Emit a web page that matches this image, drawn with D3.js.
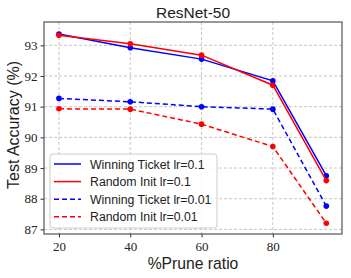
<!DOCTYPE html>
<html>
<head>
<meta charset="utf-8">
<script src="https://cdn.jsdelivr.net/npm/d3@7"></script>
<style>
  body { margin: 0; background: #fff; }
  svg text { fill: #222; }
</style>
</head>
<body>
<div id="chart"></div>
<script>
const pruneRatios = [20, 40, 60, 80, 95];
const winningLr01 = [93.37, 92.92, 92.55, 91.84, 88.75];
const randomLr01 = [93.33, 93.05, 92.68, 91.70, 88.59];
const winningLr001 = [91.27, 91.16, 91.00, 90.92, 87.76];
const randomLr001 = [90.93, 90.92, 90.43, 89.70, 87.20];
const xTicks = [20, 40, 60, 80];
const yTicks = [87, 88, 89, 90, 91, 92, 93];

const series = [
    { name: "Winning Ticket lr=0.1", values: winningLr01, color: "#0000ff", dash: null },
    { name: "Random Init lr=0.1", values: randomLr01, color: "#ff0000", dash: null },
    { name: "Winning Ticket lr=0.01", values: winningLr001, color: "#0000ff", dash: "5,3" },
    { name: "Random Init lr=0.01", values: randomLr001, color: "#ff0000", dash: "5,3" }
];

const W = 351, H = 278;
const margin = { top: 22, right: 9, bottom: 44, left: 44 };
const width = W - margin.left - margin.right;
const height = H - margin.top - margin.bottom;

const svg = d3.select("#chart").append("svg")
    .attr("width", W)
    .attr("height", H);

const g = svg.append("g")
    .attr("transform", `translate(${margin.left},${margin.top})`);

const x = d3.scaleLinear().domain([15.8, 99.4]).range([0, width]);
const y = d3.scaleLinear().domain([86.85, 93.76]).range([height, 0]);

// grid
g.selectAll(".gx").data(xTicks).enter().append("line")
    .attr("x1", d => x(d)).attr("x2", d => x(d))
    .attr("y1", 0).attr("y2", height)
    .attr("stroke", "#b8b8b8").attr("stroke-width", 0.8)
    .attr("stroke-dasharray", "3,2");
g.selectAll(".gy").data(yTicks).enter().append("line")
    .attr("x1", 0).attr("x2", width)
    .attr("y1", d => y(d)).attr("y2", d => y(d))
    .attr("stroke", "#b8b8b8").attr("stroke-width", 0.8)
    .attr("stroke-dasharray", "3,2");

// axes
const xAxis = g.append("g")
    .attr("transform", `translate(0,${height})`)
    .call(d3.axisBottom(x).tickValues(xTicks).tickFormat(d3.format("d")).tickSize(3.5).tickPadding(4));
const yAxis = g.append("g")
    .call(d3.axisLeft(y).tickValues(yTicks).tickFormat(d3.format("d")).tickSize(3.5).tickPadding(3));
[xAxis, yAxis].forEach(a => {
    a.select(".domain").remove();
    a.selectAll("line").attr("stroke", "#333");
    a.selectAll("text")
        .style("font-family", "'Liberation Serif', serif")
        .style("font-size", "13px")
        .attr("fill", "#444");
});

g.append("rect")
    .attr("width", width).attr("height", height)
    .attr("fill", "none").attr("stroke", "#333").attr("stroke-width", 1);

// lines
const line = d3.line()
    .x((d, i) => x(pruneRatios[i]))
    .y(d => y(d));

series.forEach(s => {
    g.append("path")
        .datum(s.values)
        .attr("d", line)
        .attr("fill", "none")
        .attr("stroke", s.color)
        .attr("stroke-width", 1.5)
        .attr("stroke-dasharray", s.dash);
    g.selectAll(null).data(s.values).enter().append("circle")
        .attr("cx", (d, i) => x(pruneRatios[i]))
        .attr("cy", d => y(d))
        .attr("r", 2.8)
        .attr("fill", s.color);
});

// legend
const legend = g.append("g").attr("transform", "translate(6,132)");
legend.append("rect")
    .attr("width", 167).attr("height", 74).attr("rx", 3)
    .attr("fill", "#fff").attr("fill-opacity", 0.8)
    .attr("stroke", "#ccc");
series.forEach((s, i) => {
    const ly = 10 + i * 17.6;
    legend.append("line")
        .attr("x1", 4).attr("x2", 31)
        .attr("y1", ly).attr("y2", ly)
        .attr("stroke", s.color).attr("stroke-width", 1.5)
        .attr("stroke-dasharray", s.dash);
    legend.append("text")
        .attr("x", 40).attr("y", ly + 4.5)
        .style("font-family", "'Liberation Sans', Arial, sans-serif")
        .style("font-size", "12.3px")
        .text(s.name);
});

// titles
svg.append("text")
    .attr("x", margin.left + width / 2).attr("y", 17.5)
    .attr("text-anchor", "middle")
    .style("font-family", "'Liberation Sans', Arial, sans-serif")
    .style("font-size", "15.5px")
    .text("ResNet-50");
svg.append("text")
    .attr("x", margin.left + width / 2).attr("y", 269)
    .attr("text-anchor", "middle")
    .style("font-family", "'Liberation Sans', Arial, sans-serif")
    .style("font-size", "15.7px")
    .text("%Prune ratio");
svg.append("text")
    .attr("transform", `translate(19,125) rotate(-90)`)
    .attr("text-anchor", "middle")
    .style("font-family", "'Liberation Sans', Arial, sans-serif")
    .style("font-size", "16px")
    .text("Test Accuracy (%)");
</script>
</body>
</html>
